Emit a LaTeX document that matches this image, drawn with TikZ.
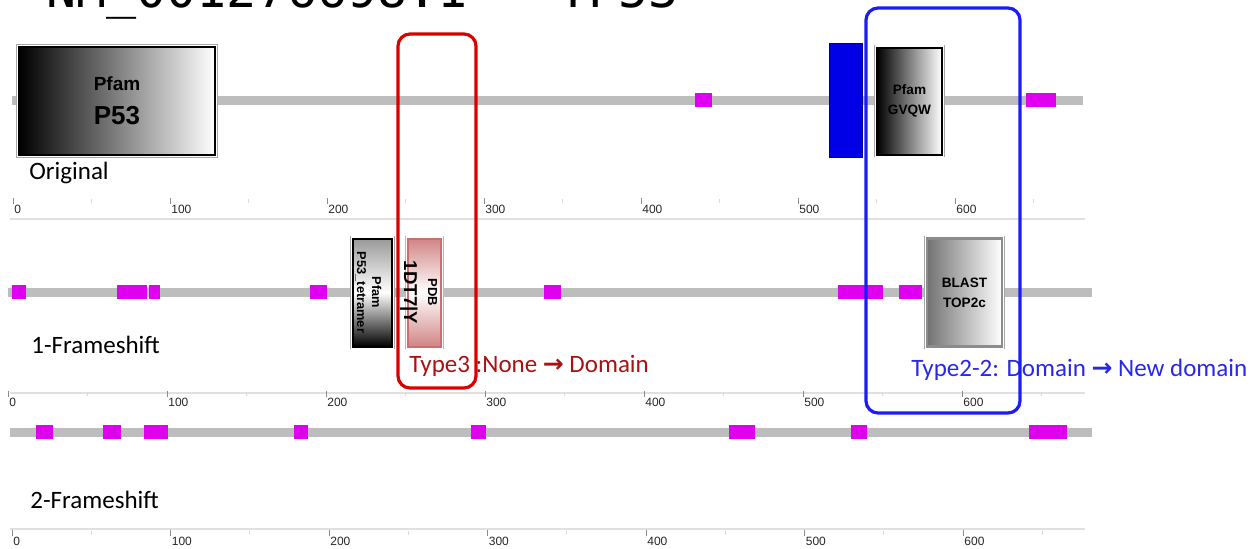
\documentclass[tikz,border=0pt]{standalone}
\usepackage{fontspec}
\setmainfont{Carlito}
\newfontfamily\labelfont{Liberation Sans}
\newfontfamily\accfont{DejaVu Sans Mono}
\newfontfamily\arrowfont{DejaVu Sans}
\usepackage{tikz}
\usetikzlibrary{positioning}
\usetikzlibrary{calc}

\definecolor{trackgray}{RGB}{189,189,189}
\definecolor{sitemag}{RGB}{222,0,238}
\definecolor{domblue}{RGB}{0,0,230}
\definecolor{hlred}{RGB}{218,0,0}
\definecolor{hlblue}{RGB}{28,28,250}
\definecolor{notered}{RGB}{170,18,18}
\definecolor{noteblue}{RGB}{40,40,235}
\definecolor{pdbpink}{RGB}{200,112,112}

\begin{document}
\begin{tikzpicture}[x=0.5pt, y=-0.5pt,
  track/.style={draw=trackgray, line width=4.5pt},
  site/.style={fill=sitemag, minimum height=7pt, inner sep=0pt},
  pfambox/.style={draw=black, line width=1pt, left color=black, right color=white,
    preaction={draw=black!35, line width=0.35pt, double=white, double distance=2.2pt},
    inner sep=0pt, align=center, font=\labelfont\bfseries},
  vpfambox/.style={pfambox, top color=black!40, bottom color=black, middle color=white},
  pdbbox/.style={draw=pdbpink, line width=1pt, top color=pdbpink!85, bottom color=pdbpink!85, middle color=white,
    preaction={draw=pdbpink!60, line width=0.35pt, double=white, double distance=2.2pt}, inner sep=0pt},
  blastbox/.style={pfambox, draw=black!45, line width=1.3pt, left color=black!55, right color=white},
  vtext/.style={rotate=-90, align=center, inner sep=0pt},
  hlbox/.style={draw, line width=1.6pt, rounded corners=6pt, inner sep=0pt},
  rowname/.style={anchor=west, inner sep=0pt, font=\fontsize{12.5}{15}\selectfont},
  note/.style={anchor=west, inner sep=0pt, font=\fontsize{12.5}{15}\selectfont},
  axislabel/.style={anchor=west, inner sep=0.5pt, text=black!85, font=\labelfont\fontsize{6}{7}\selectfont},
  tickmark/.style={draw=black!45, line width=0.4pt},
  minortick/.style={draw=black!15, line width=0.4pt},
  axisline/.style={draw=black!12, line width=0.6pt}]

  \useasboundingbox (0,0) rectangle (1255,548);

  % Accession title, cut at the top
  \begin{scope}
    \clip (0,0) rectangle (1255,548);
    \node[anchor=base west, inner sep=0pt, font=\accfont\fontsize{25}{28}\selectfont] (title) at (46,7) {NM\_001276698.1 - TP53};
  \end{scope}

  % Rulers: row / origin / step / label y / line y
  \foreach \r/\xo/\st/\ly/\ln in {1/13/157/209/219, 2/8/159/402/393, 3/12/158.5/541/529} {
    \draw[axisline] (10,\ln) -- (1085,\ln);
    \foreach \k in {0,...,6} {
      \pgfmathsetmacro\tx{\xo+\k*\st}
      \pgfmathsetmacro\mx{\xo+(\k+0.5)*\st}
      \pgfmathtruncatemacro\lab{\k*100}
      \draw[tickmark] (\tx,\ly-11) -- (\tx,\ly-5);
      \draw[minortick] (\mx,\ly-10) -- (\mx,\ly-6);
      \node[axislabel] (t\r-\k) at (\tx,\ly) {\lab};
    }
  }

  % Original
  \coordinate (o-start) at (12,100);
  \coordinate (o-end) at (1083,100);
  \draw[track] (o-start) -- (o-end);
  \node[pfambox, minimum width=98pt, minimum height=54pt] (p53) at (117,101)
    {\fontsize{9.5}{11}\selectfont Pfam\\[5pt]\fontsize{13}{16}\selectfont P53};
  \foreach \sx/\sw [count=\i] in {703.5/8.5, 1041/15} {
    \node[site, minimum width=\sw pt] (o-s\i) at (\sx,100) {};
  }
  \node[fill=domblue, draw=blue!60!black, line width=0.4pt, inner sep=0pt,
    minimum width=16.5pt, minimum height=57pt] (o-dom) at (845.5,100) {};
  \node[pfambox, minimum width=32.5pt, minimum height=53.5pt,
    font=\labelfont\bfseries\fontsize{6.8}{10}\selectfont] (gvqw) at (909.5,101) {Pfam\\GVQW};
  \node[rowname] (orig) at (29,173) {Original};

  % 1-Frameshift
  \coordinate (f1-start) at (8,292);
  \coordinate (f1-end) at (1092,292);
  \draw[track] (f1-start) -- (f1-end);
  \foreach \sx/\sw [count=\i] in {19/7, 132/15, 154.5/5.5, 318.5/8.5, 552.5/8.5, 860.5/22.5, 910.5/11.5} {
    \node[site, minimum width=\sw pt] (f1-s\i) at (\sx,292) {};
  }
  \node[vpfambox, minimum width=19.5pt, minimum height=54pt] (tetra) at (372.5,292.5) {};
  \node[vtext, font=\labelfont\bfseries\fontsize{6.4}{7.5}\selectfont] (tetra-txt)
    at ([xshift=-2pt]tetra.center) {Pfam\\P53\_tetramer};
  \node[pdbbox, minimum width=16.5pt, minimum height=54pt] (pdb) at (424.5,292.5) {};
  \node[vtext, font=\labelfont\bfseries] (pdb-txt) at ([xshift=-3pt]pdb.center)
    {\fontsize{6.5}{8}\selectfont PDB\\\fontsize{9.3}{10}\selectfont 1DT7|Y};
  \node[blastbox, minimum width=37.5pt, minimum height=54pt,
    font=\labelfont\bfseries\fontsize{6.8}{10}\selectfont] (blast) at (964.5,292.5) {BLAST\\TOP2c};
  \node[rowname] (f1) at (31,345) {1-Frameshift};

  % 2-Frameshift
  \coordinate (f2-start) at (10,432);
  \coordinate (f2-end) at (1092,432);
  \draw[track] (f2-start) -- (f2-end);
  \foreach \sx/\sw [count=\i] in {44.5/8.5, 112/9, 156/12, 301/7, 478.5/7.5, 742/13, 859/8, 1048/19} {
    \node[site, minimum width=\sw pt] (f2-s\i) at (\sx,432) {};
  }
  \node[rowname] (f2) at (30,500) {2-Frameshift};

  % Highlighted changes
  \node[note, text=notered] (type3) at (409,366) {Type3 :None {\arrowfont\bfseries →} Domain};
  \node[note, text=noteblue] (type22) at (911,370) {Type2-2: Domain {\arrowfont\bfseries →} New domain};
  \node[hlbox, draw=hlred, minimum width=39pt, minimum height=177pt] (hl-type3) at (437,211) {};
  \node[hlbox, draw=hlblue, minimum width=77pt, minimum height=202.5pt] (hl-type22) at (943,210.5) {};

\end{tikzpicture}
\end{document}
